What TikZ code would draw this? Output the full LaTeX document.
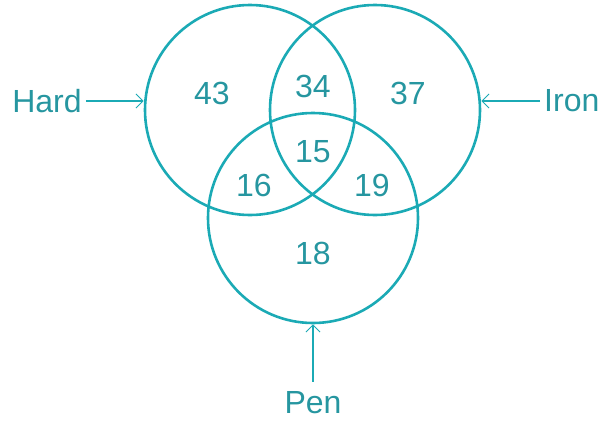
\documentclass[tikz,border=0pt]{standalone}
\usepackage{fontspec}
\setmainfont{Liberation Sans}
\usepackage{tikz}
\usetikzlibrary{arrows.meta,positioning}
\definecolor{vennline}{RGB}{27,170,181}
\definecolor{venntext}{RGB}{38,150,160}

\begin{document}
\begin{tikzpicture}[x=1pt,y=-1pt,
  set/.style={draw=vennline,line width=2.6pt,circle,minimum size=210pt,inner sep=0pt},
  num/.style={text=venntext,font=\fontsize{32}{38}\selectfont,inner sep=0pt},
  lab/.style={text=venntext,font=\fontsize{32}{38}\selectfont,inner sep=4pt},
  pointer/.style={draw=vennline,line width=2.6pt,-{Straight Barb[length=7pt,width=14pt,line width=1pt]}}]
\useasboundingbox (0,0) rectangle (603,421);
\node[set] (hardset) at (250,110) {};
\node[set] (ironset) at (375,110) {};
\node[set] (penset) at (313,218) {};
\node[num] (onlyhard) at (212,93) {43};
\node[num] (hardiron) at (313,86) {34};
\node[num] (onlyiron) at (408,93) {37};
\node[num] (allthree) at (313,152) {15};
\node[num] (hardpen) at (254,185) {16};
\node[num] (ironpen) at (372,185) {19};
\node[num] (onlypen) at (313,253) {18};
\node[lab] (hard) at (47,101) {Hard};
\node[lab,anchor=west] (iron) at (540,101) {Iron};
\node[lab] (pen) at (313,403) {Pen};
\draw[pointer] (hard) -- (hard -| hardset.west);
\draw[pointer] (iron) -- (iron -| ironset.east);
\draw[pointer,shorten <=6pt] (pen) -- (penset.south);
\end{tikzpicture}
\end{document}
